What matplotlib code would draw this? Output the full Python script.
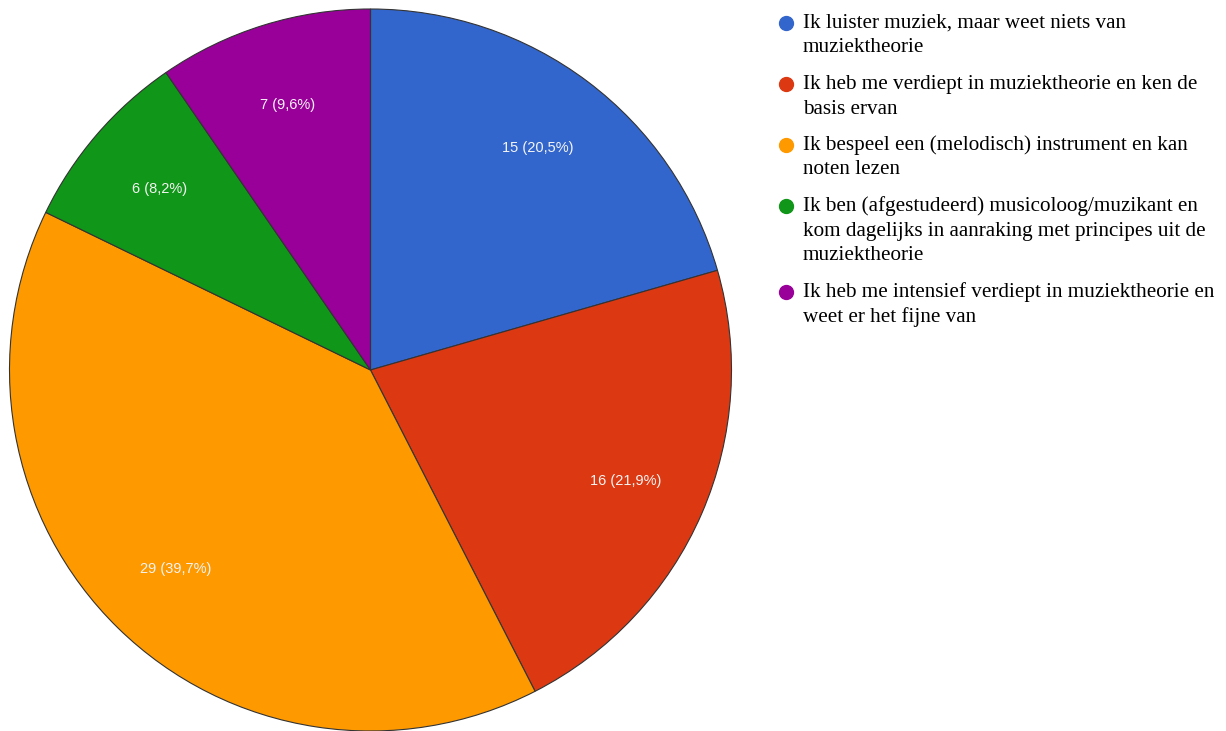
import matplotlib.pyplot as plt

# antwoorden op de vraag over muziektheorie-kennis
categories = [
    ["Ik luister muziek, maar weet niets van", "muziektheorie"],
    ["Ik heb me verdiept in muziektheorie en ken de", "basis ervan"],
    ["Ik bespeel een (melodisch) instrument en kan", "noten lezen"],
    ["Ik ben (afgestudeerd) musicoloog/muzikant en",
     "kom dagelijks in aanraking met principes uit de", "muziektheorie"],
    ["Ik heb me intensief verdiept in muziektheorie en", "weet er het fijne van"],
]
counts = [15, 16, 29, 6, 7]
colors = ["#3366cc", "#dc3912", "#ff9900", "#109618", "#990099"]

W, H = 1226, 731
fig = plt.figure(figsize=(W / 100, H / 100), dpi=100)

# pie axes: center (370.5, 370) px, radius 361 px
cx, cy, r = 370.5, 370, 361
ax = fig.add_axes([(cx - r) / W, (H - cy - r) / H, 2 * r / W, 2 * r / H])

total = sum(counts)


def fmt(pct):
    n = int(round(pct * total / 100))
    return f"{n} ({pct:.1f}%)".replace(".", ",")


wedges, texts, autotexts = ax.pie(
    counts, colors=colors, startangle=90, counterclock=False,
    autopct=fmt, pctdistance=0.77, radius=1,
    wedgeprops=dict(edgecolor="#333333", linewidth=0.8),
    textprops=dict(color="#f4f4f4", family=["Liberation Sans", "DejaVu Sans"], fontsize=10.5),
)
ax.set_xlim(-1, 1)
ax.set_ylim(-1, 1)
ax.axis("off")

# legend, drawn by hand
y = 23
for label, col in zip(categories, colors):
    fig.add_artist(plt.Line2D([786 / W], [1 - y / H], marker="o", markersize=10,
                              color=col, linestyle="none", transform=fig.transFigure))
    for line in label:
        fig.text(803 / W, 1 - y / H, line, ha="left", va="center",
                 family=["Liberation Serif", "DejaVu Serif"], fontsize=15.2, color="#000000")
        y += 25
    y += 11

fig.savefig("out.png", dpi=100)
